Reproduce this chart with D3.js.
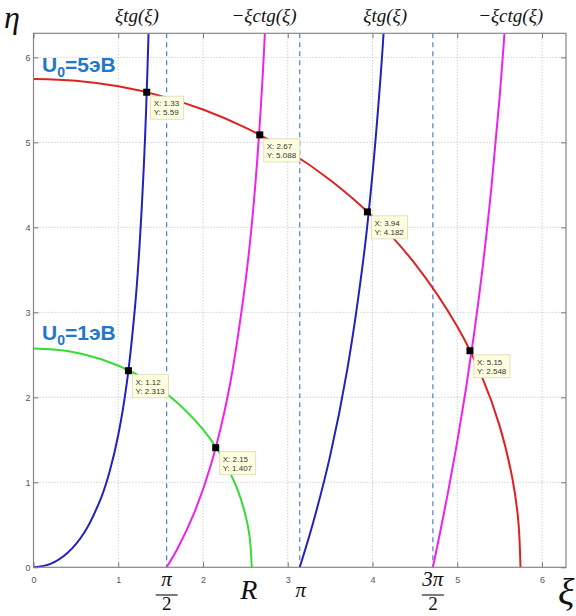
<!DOCTYPE html>
<html>
<head>
<meta charset="utf-8">
<script src="https://cdn.jsdelivr.net/npm/d3@7"></script>
<style>
  body { margin: 0; background: #fff; }
  svg { display: block; }
</style>
</head>
<body>
<div id="chart"></div>
<script>
// точки кривых (ξ, η)
const tgBranch1 = [[0,0],[0.2,0.041],[0.4,0.169],[0.6,0.41],[0.8,0.824],[0.9,1.134],[1.0,1.557],[1.1,2.161],[1.2,3.087],[1.25,3.762],[1.3,4.683],[1.33,5.416],[1.36,6.358]];
const tgBranch2 = [[3.1416,0],[3.3,0.527],[3.5,1.311],[3.7,2.314],[3.9,3.687],[4.0,4.631],[4.1,5.836],[4.15,6.581]];
const ctgBranch1 = [[1.5708,0],[1.7,0.221],[1.9,0.649],[2.1,1.227],[2.3,2.056],[2.5,3.353],[2.6,4.298],[2.7,5.708],[2.8,7.889]];
const ctgBranch2 = [[4.7124,0],[4.8,0.421],[4.9,0.93],[5.0,1.479],[5.1,2.083],[5.2,2.759],[5.3,3.532],[5.4,4.438],[5.5,5.529],[5.6,6.876]];
const circle5 = [[0,5.746],[0.5,5.725],[1.0,5.659],[1.5,5.547],[2.0,5.387],[2.5,5.174],[3.0,4.901],[3.5,4.557],[4.0,4.126],[4.5,3.573],[5.0,2.832],[5.3,2.22],[5.5,1.664],[5.65,1.048],[5.72,0.549],[5.746,0]];
const circle1 = [[0,2.575],[0.4,2.544],[0.8,2.448],[1.2,2.278],[1.6,2.018],[2.0,1.622],[2.2,1.338],[2.4,0.934],[2.5,0.617],[2.55,0.36],[2.575,0]];

const asymptotes = [Math.PI / 2, Math.PI, 3 * Math.PI / 2];
const ticks = [0, 1, 2, 3, 4, 5, 6];

// точки пересечения (datatips)
const tips = [
  { x: 1.336, y: 5.59, lx: "1.33", ly: "5.59" },
  { x: 2.67, y: 5.088, lx: "2.67", ly: "5.088" },
  { x: 3.94, y: 4.182, lx: "3.94", ly: "4.182" },
  { x: 5.15, y: 2.548, lx: "5.15", ly: "2.548" },
  { x: 1.12, y: 2.313, lx: "1.12", ly: "2.313" },
  { x: 2.15, y: 1.407, lx: "2.15", ly: "1.407" }
];

const topLabels = [
  { x: 1.22, text: "ξtg(ξ)" },
  { x: 2.72, text: "−ξctg(ξ)" },
  { x: 4.15, text: "ξtg(ξ)" },
  { x: 5.63, text: "−ξctg(ξ)" }
];

const width = 576, height = 616;
const mLeft = 33.5, mRight = 566, mTop = 33.3, mBottom = 567.3;

const x = d3.scaleLinear().domain([0, 2 * Math.PI]).range([mLeft, mRight]);
const y = d3.scaleLinear().domain([0, 2 * Math.PI]).range([mBottom, mTop]);

const svg = d3.select("#chart").append("svg")
  .attr("width", width)
  .attr("height", height);

svg.append("defs").append("clipPath").attr("id", "plot")
  .append("rect")
  .attr("x", mLeft).attr("y", mTop)
  .attr("width", mRight - mLeft).attr("height", mBottom - mTop);

// сетка
svg.append("g").selectAll("line")
  .data(ticks.slice(1))
  .join("line")
  .attr("x1", d => x(d)).attr("x2", d => x(d))
  .attr("y1", mTop).attr("y2", mBottom)
  .attr("stroke", "#bbb").attr("stroke-dasharray", "1,2");
svg.append("g").selectAll("line")
  .data(ticks.slice(1))
  .join("line")
  .attr("x1", mLeft).attr("x2", mRight)
  .attr("y1", d => y(d)).attr("y2", d => y(d))
  .attr("stroke", "#bbb").attr("stroke-dasharray", "1,2");

// асимптоты
svg.append("g").selectAll("line")
  .data(asymptotes)
  .join("line")
  .attr("x1", d => x(d)).attr("x2", d => x(d))
  .attr("y1", mTop).attr("y2", mBottom)
  .attr("stroke", "#4a80c8").attr("stroke-width", 1.2)
  .attr("stroke-dasharray", "5,4");

// кривые
const line = d3.line()
  .x(d => x(d[0]))
  .y(d => y(d[1]))
  .curve(d3.curveCatmullRom);

const curves = [
  { pts: circle5, color: "#dd2222" },
  { pts: circle1, color: "#33dd33" },
  { pts: tgBranch1, color: "#2222bb" },
  { pts: tgBranch2, color: "#2222bb" },
  { pts: ctgBranch1, color: "#ee22ee" },
  { pts: ctgBranch2, color: "#ee22ee" }
];

svg.append("g").attr("clip-path", "url(#plot)")
  .selectAll("path")
  .data(curves)
  .join("path")
  .attr("d", d => line(d.pts))
  .attr("fill", "none")
  .attr("stroke", d => d.color)
  .attr("stroke-width", 2);

// рамка
svg.append("rect")
  .attr("x", mLeft).attr("y", mTop)
  .attr("width", mRight - mLeft).attr("height", mBottom - mTop)
  .attr("fill", "none").attr("stroke", "#888").attr("stroke-width", 1.2);

// оси
svg.append("g")
  .attr("transform", `translate(0,${mBottom})`)
  .call(d3.axisBottom(x).tickValues(ticks).tickSize(-5).tickPadding(9).tickFormat(d3.format("d")));
svg.append("g")
  .attr("transform", `translate(${mLeft},0)`)
  .call(d3.axisLeft(y).tickValues(ticks).tickSize(-5).tickPadding(3).tickFormat(d3.format("d")));
svg.append("g")
  .attr("transform", `translate(0,${mTop})`)
  .call(d3.axisTop(x).tickValues(ticks).tickSize(-5).tickFormat(""));
svg.append("g")
  .attr("transform", `translate(${mRight},0)`)
  .call(d3.axisRight(y).tickValues(ticks).tickSize(-5).tickFormat(""));

svg.selectAll(".domain").remove();
svg.selectAll(".tick line").attr("stroke", "#777");
svg.selectAll(".tick text")
  .attr("fill", "#555")
  .attr("font-family", "Arial, 'Liberation Sans', sans-serif")
  .attr("font-size", 9);

// точки и подписи datatips
const tip = svg.append("g").selectAll("g")
  .data(tips)
  .join("g")
  .attr("transform", d => `translate(${x(d.x)},${y(d.y)})`);

tip.append("rect")
  .attr("x", 4).attr("y", 4)
  .attr("width", d => d.ly.length > 4 ? 36 : 33)
  .attr("height", 23)
  .attr("fill", "#ffffe0")
  .attr("stroke", "#d8d8b8").attr("stroke-width", 0.8);

tip.append("rect")
  .attr("x", -3.5).attr("y", -3.5)
  .attr("width", 7).attr("height", 7)
  .attr("fill", "#000");

tip.append("text")
  .attr("x", 7).attr("y", 14)
  .attr("font-family", "Arial, 'Liberation Sans', sans-serif")
  .attr("font-size", 8).attr("fill", "#333")
  .text(d => "X: " + d.lx);
tip.append("text")
  .attr("x", 7).attr("y", 23)
  .attr("font-family", "Arial, 'Liberation Sans', sans-serif")
  .attr("font-size", 8).attr("fill", "#333")
  .text(d => "Y: " + d.ly);

const serif = "'Liberation Serif', 'DejaVu Serif', serif";

// подписи функций сверху
svg.append("g").selectAll("text")
  .data(topLabels)
  .join("text")
  .attr("x", d => x(d.x))
  .attr("y", 22)
  .attr("text-anchor", "middle")
  .attr("font-family", serif)
  .attr("font-style", "italic")
  .attr("font-size", 19)
  .attr("fill", "#111")
  .text(d => d.text);

// оси η и ξ
svg.append("text")
  .attr("x", 4).attr("y", 28)
  .attr("font-family", serif).attr("font-style", "italic")
  .attr("font-size", 32).attr("fill", "#111")
  .text("η");
svg.append("text")
  .attr("x", 558).attr("y", 605)
  .attr("font-family", serif).attr("font-style", "italic")
  .attr("font-size", 38).attr("fill", "#111")
  .text("ξ");

// подписи на оси ξ
function fraction(xv, num) {
  const g = svg.append("g").attr("transform", `translate(${x(xv)},0)`);
  g.append("text").attr("x", 0).attr("y", 586)
    .attr("text-anchor", "middle")
    .attr("font-family", serif).attr("font-style", "italic")
    .attr("font-size", 21).attr("fill", "#111")
    .text(num);
  g.append("line").attr("x1", -11).attr("x2", 11)
    .attr("y1", 595).attr("y2", 595)
    .attr("stroke", "#333").attr("stroke-width", 1.3);
  g.append("text").attr("x", 0).attr("y", 610)
    .attr("text-anchor", "middle")
    .attr("font-family", serif)
    .attr("font-size", 19).attr("fill", "#111")
    .text("2");
}
fraction(Math.PI / 2, "π");
fraction(3 * Math.PI / 2, "3π");

svg.append("text")
  .attr("x", x(Math.PI) + 1).attr("y", 597)
  .attr("text-anchor", "middle")
  .attr("font-family", serif).attr("font-style", "italic")
  .attr("font-size", 21).attr("fill", "#111")
  .text("π");

svg.append("text")
  .attr("x", x(2.54)).attr("y", 599)
  .attr("text-anchor", "middle")
  .attr("font-family", serif).attr("font-style", "italic")
  .attr("font-size", 28).attr("fill", "#111")
  .text("R");

// подписи U0
function uLabel(yv, val) {
  const t = svg.append("text")
    .attr("x", 42).attr("y", y(yv))
    .attr("font-family", "Arial, 'Liberation Sans', sans-serif")
    .attr("font-weight", "bold")
    .attr("font-size", 21).attr("fill", "#1f78c8");
  t.append("tspan").text("U");
  t.append("tspan").attr("dy", 5).attr("font-size", 14).text("0");
  t.append("tspan").attr("dy", -5).text("=" + val + "эВ");
}
uLabel(5.83, 5);
uLabel(2.67, 1);
</script>
</body>
</html>
